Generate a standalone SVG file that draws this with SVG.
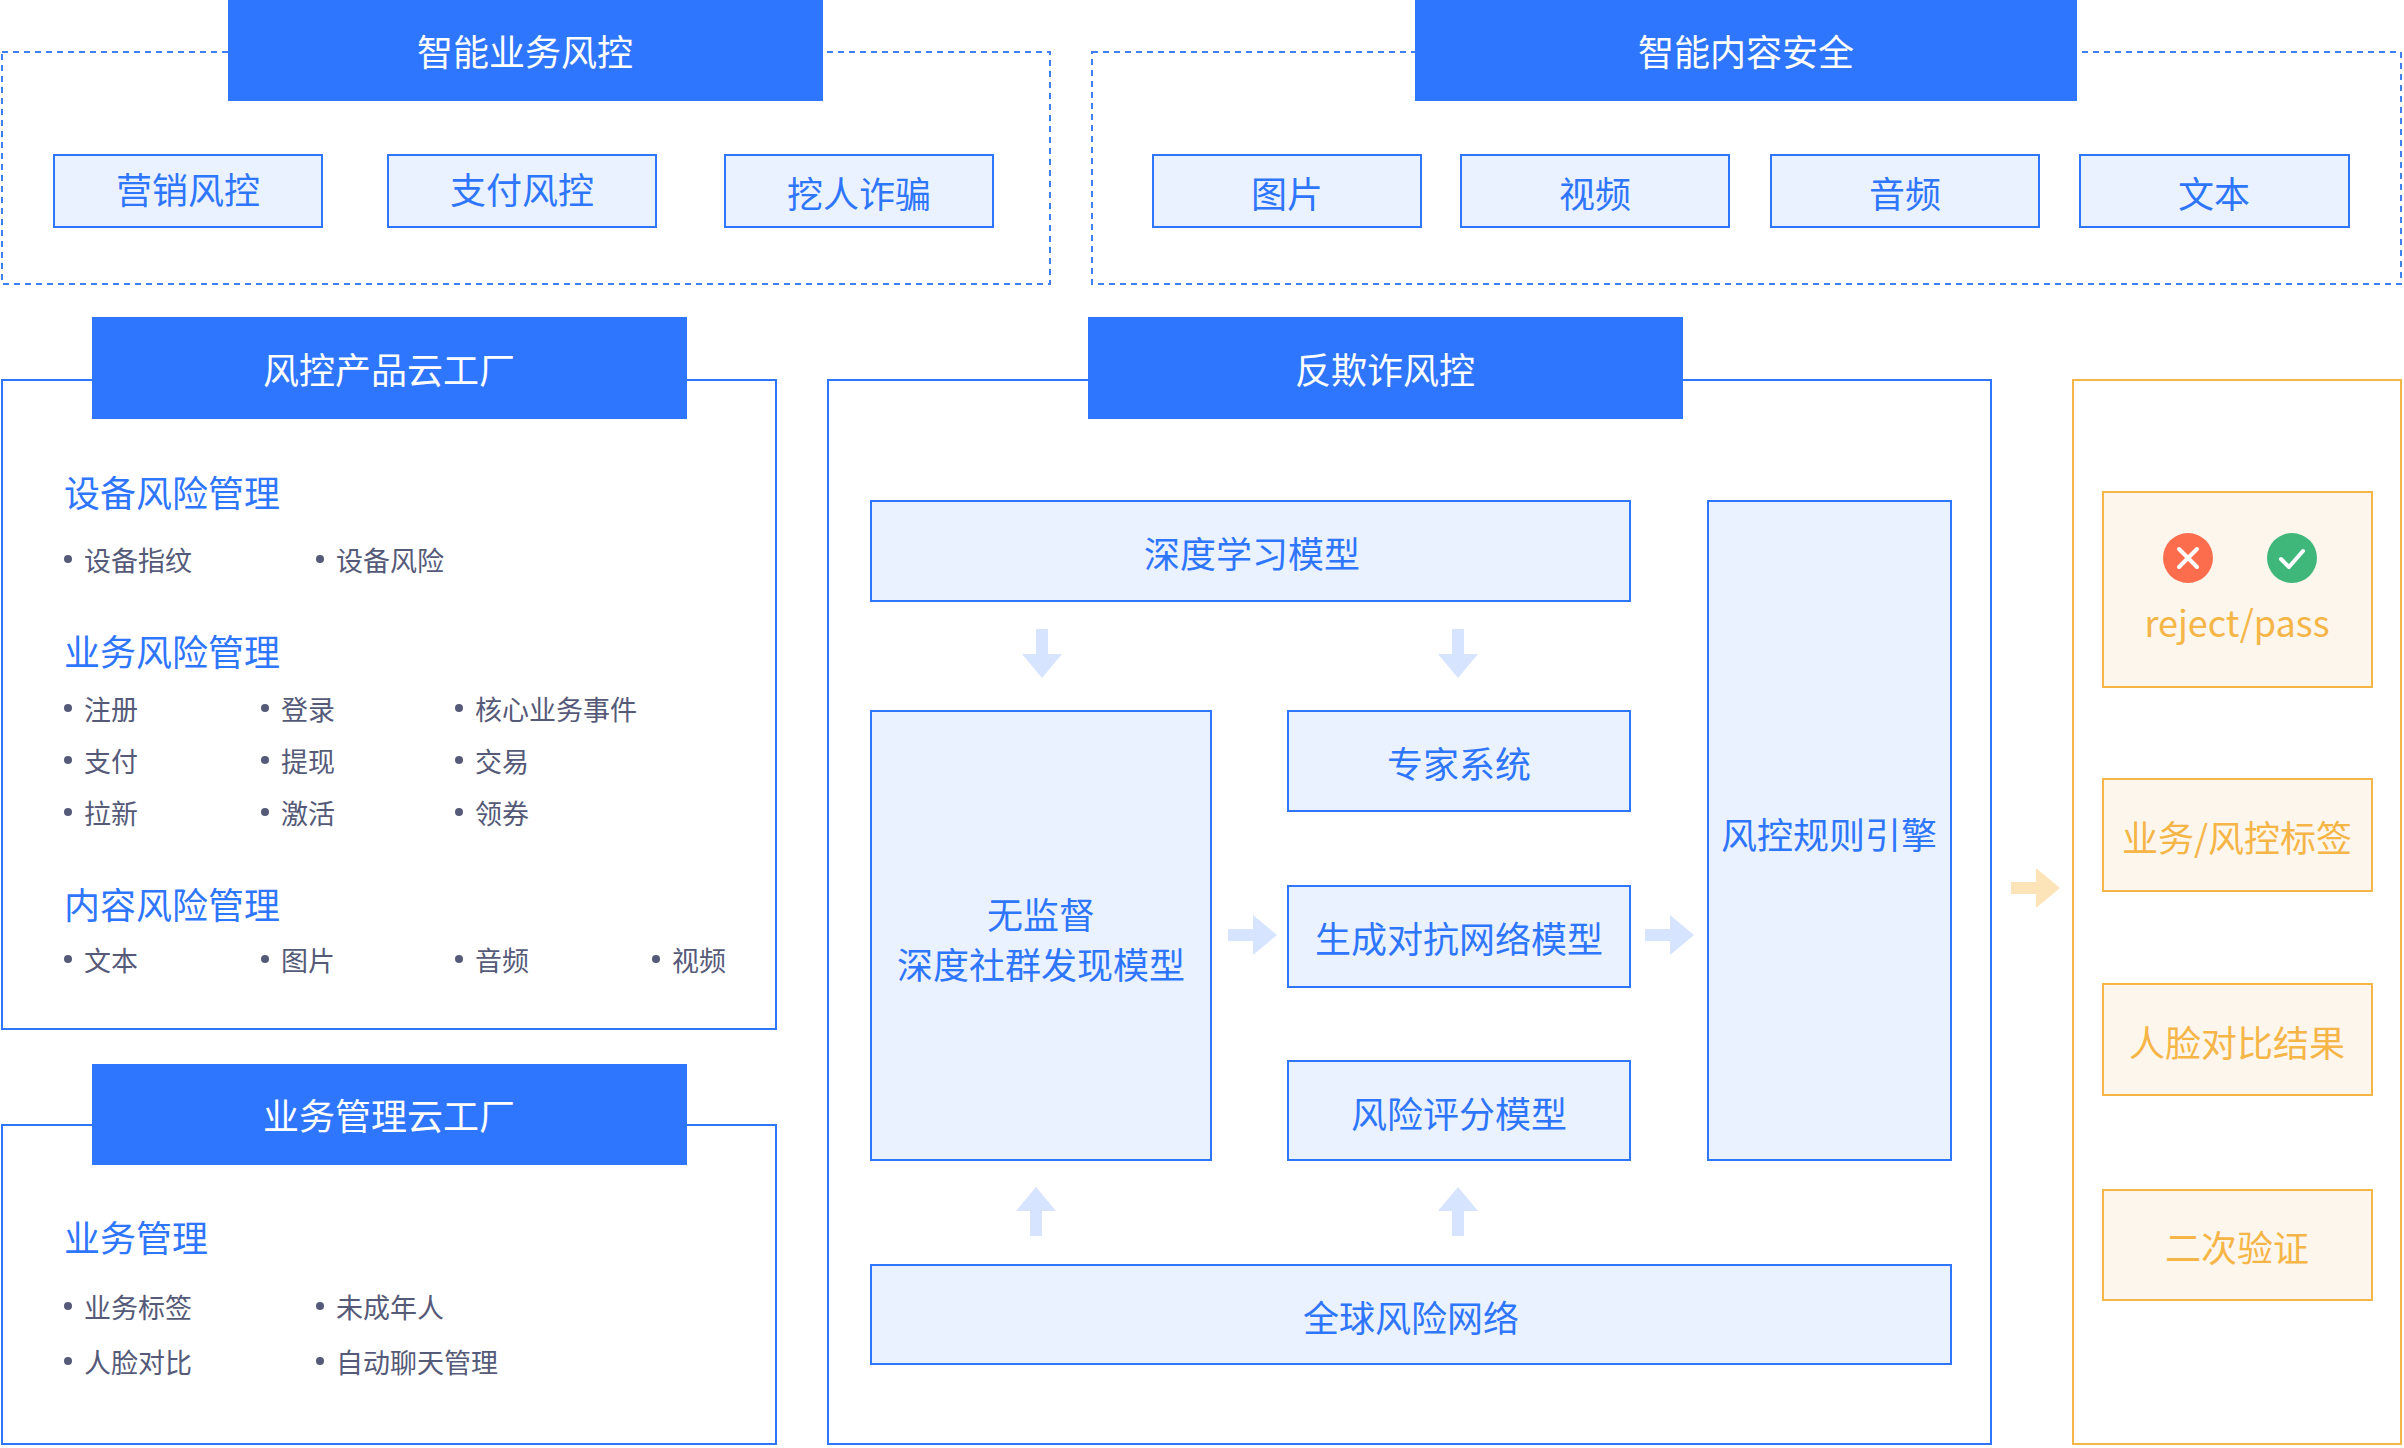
<svg xmlns="http://www.w3.org/2000/svg" width="2404" height="1448" viewBox="0 0 2404 1448">
<style>
text{font-family:"Noto Sans CJK SC","Noto Sans",sans-serif}
.hd{fill:#2f76ff}
.ht{fill:#fff;font-size:36px;text-anchor:middle;dominant-baseline:central}
.dash{fill:none;stroke:#3f7ff0;stroke-width:2;stroke-dasharray:6 5}
.pan{fill:#fff;stroke:#2f76ff;stroke-width:2}
.bx{fill:#eaf2ff;stroke:#2f76ff;stroke-width:2}
.bt{fill:#2f76ff;font-size:36px;text-anchor:middle;dominant-baseline:central}
.sec{fill:#2f76ff;font-size:36px;dominant-baseline:central}
.li{fill:#555a78;font-size:27px;dominant-baseline:central}
.dot{fill:#555a78}
.op{fill:#fff;stroke:#f5b547;stroke-width:2}
.ob{fill:#fdf6ec;stroke:#f5b547;stroke-width:2}
.ot{fill:#f5b547;font-size:36px;text-anchor:middle;dominant-baseline:central}
.ar{fill:#d6e4ff}
.oa{fill:#fde4b8}
</style>
<g id="biz">
<rect class="dash" x="2" y="52" width="1048" height="232"/>
<rect class="hd" x="228" y="0" width="595" height="101"/><text class="ht" x="525" y="50">智能业务风控</text>
<rect class="bx" x="54" y="155" width="268" height="72"/><text class="bt" x="188" y="188">营销风控</text>
<rect class="bx" x="388" y="155" width="268" height="72"/><text class="bt" x="522" y="188">支付风控</text>
<rect class="bx" x="725" y="155" width="268" height="72"/><text class="bt" x="859" y="192">挖人诈骗</text>
</g>
<g id="content">
<rect class="dash" x="1092" y="52" width="1309" height="232"/>
<rect class="hd" x="1415" y="0" width="662" height="101"/><text class="ht" x="1746" y="50">智能内容安全</text>
<rect class="bx" x="1153" y="155" width="268" height="72"/><text class="bt" x="1287" y="192">图片</text>
<rect class="bx" x="1461" y="155" width="268" height="72"/><text class="bt" x="1595" y="192">视频</text>
<rect class="bx" x="1771" y="155" width="268" height="72"/><text class="bt" x="1905" y="192">音频</text>
<rect class="bx" x="2080" y="155" width="269" height="72"/><text class="bt" x="2214" y="192">文本</text>
</g>
<g id="factory">
<rect class="pan" x="2" y="380" width="774" height="649"/>
<rect class="hd" x="92" y="317" width="595" height="102"/><text class="ht" x="389" y="368">风控产品云工厂</text>
<text class="sec" x="64" y="491">设备风险管理</text>
<circle class="dot" cx="68" cy="559" r="4"/><text class="li" x="84" y="559">设备指纹</text>
<circle class="dot" cx="320" cy="559" r="4"/><text class="li" x="336" y="559">设备风险</text>
<text class="sec" x="64" y="650">业务风险管理</text>
<circle class="dot" cx="68" cy="708" r="4"/><text class="li" x="84" y="708">注册</text>
<circle class="dot" cx="265" cy="708" r="4"/><text class="li" x="281" y="708">登录</text>
<circle class="dot" cx="459" cy="708" r="4"/><text class="li" x="475" y="708">核心业务事件</text>
<circle class="dot" cx="68" cy="760" r="4"/><text class="li" x="84" y="760">支付</text>
<circle class="dot" cx="265" cy="760" r="4"/><text class="li" x="281" y="760">提现</text>
<circle class="dot" cx="459" cy="760" r="4"/><text class="li" x="475" y="760">交易</text>
<circle class="dot" cx="68" cy="812" r="4"/><text class="li" x="84" y="812">拉新</text>
<circle class="dot" cx="265" cy="812" r="4"/><text class="li" x="281" y="812">激活</text>
<circle class="dot" cx="459" cy="812" r="4"/><text class="li" x="475" y="812">领券</text>
<text class="sec" x="64" y="903">内容风险管理</text>
<circle class="dot" cx="68" cy="959" r="4"/><text class="li" x="84" y="959">文本</text>
<circle class="dot" cx="265" cy="959" r="4"/><text class="li" x="281" y="959">图片</text>
<circle class="dot" cx="459" cy="959" r="4"/><text class="li" x="475" y="959">音频</text>
<circle class="dot" cx="656" cy="959" r="4"/><text class="li" x="672" y="959">视频</text>
</g>
<g id="mgmt">
<rect class="pan" x="2" y="1125" width="774" height="319"/>
<rect class="hd" x="92" y="1064" width="595" height="101"/><text class="ht" x="389" y="1114">业务管理云工厂</text>
<text class="sec" x="64" y="1236">业务管理</text>
<circle class="dot" cx="68" cy="1306" r="4"/><text class="li" x="84" y="1306">业务标签</text>
<circle class="dot" cx="320" cy="1306" r="4"/><text class="li" x="336" y="1306">未成年人</text>
<circle class="dot" cx="68" cy="1361" r="4"/><text class="li" x="84" y="1361">人脸对比</text>
<circle class="dot" cx="320" cy="1361" r="4"/><text class="li" x="336" y="1361">自动聊天管理</text>
</g>
<g id="antifraud">
<rect class="pan" x="828" y="380" width="1163" height="1064"/>
<rect class="hd" x="1088" y="317" width="595" height="102"/><text class="ht" x="1385" y="368">反欺诈风控</text>
</g>
<g id="dl"><rect class="bx" x="871" y="501" width="759" height="100"/><text class="bt" x="1252" y="552">深度学习模型</text></g>
<g id="engine"><rect class="bx" x="1708" y="501" width="243" height="659"/><text class="bt" x="1829" y="833">风控规则引擎</text></g>
<g id="unsup"><rect class="bx" x="871" y="711" width="340" height="449"/><text class="bt" x="1041" y="913">无监督</text><text class="bt" x="1041" y="963">深度社群发现模型</text></g>
<g id="expert"><rect class="bx" x="1288" y="711" width="342" height="100"/><text class="bt" x="1459" y="762">专家系统</text></g>
<g id="gan"><rect class="bx" x="1288" y="886" width="342" height="101"/><text class="bt" x="1459" y="937">生成对抗网络模型</text></g>
<g id="score"><rect class="bx" x="1288" y="1061" width="342" height="99"/><text class="bt" x="1459" y="1112">风险评分模型</text></g>
<g id="global"><rect class="bx" x="871" y="1265" width="1080" height="99"/><text class="bt" x="1411" y="1316">全球风险网络</text></g>
<g id="output">
<rect class="op" x="2073" y="380" width="328" height="1064"/>
<rect class="ob" x="2103" y="492" width="269" height="195"/>
<circle cx="2188" cy="558" r="25" fill="#fb6d4d"/>
<path d="M2179 549 L2197 567 M2197 549 L2179 567" stroke="#fff" stroke-width="4" stroke-linecap="round"/>
<circle cx="2292" cy="558" r="25" fill="#3fb77b"/>
<path d="M2281 559 L2289 567 L2303 551" stroke="#fff" stroke-width="4" fill="none" stroke-linecap="round" stroke-linejoin="round"/>
<text class="ot" x="2237" y="621">reject/pass</text>
<rect class="ob" x="2103" y="779" width="269" height="112"/><text class="ot" x="2237" y="836">业务/风控标签</text>
<rect class="ob" x="2103" y="984" width="269" height="111"/><text class="ot" x="2237" y="1041">人脸对比结果</text>
<rect class="ob" x="2103" y="1190" width="269" height="110"/><text class="ot" x="2237" y="1246">二次验证</text>
</g>
<g id="connectors">
<path class="ar" d="M1036 629 h12 v25 h14 l-20 24 l-20 -24 h14 z"/>
<path class="ar" d="M1452 629 h12 v25 h14 l-20 24 l-20 -24 h14 z"/>
<path class="ar" d="M1030 1236 h12 v-25 h14 l-20 -24 l-20 24 h14 z"/>
<path class="ar" d="M1452 1236 h12 v-25 h14 l-20 -24 l-20 24 h14 z"/>
<path class="ar" d="M1228 929 h25 v-14 l24 20 l-24 20 v-14 h-25 z"/>
<path class="ar" d="M1645 929 h25 v-14 l24 20 l-24 20 v-14 h-25 z"/>
<path class="oa" d="M2011 882 h25 v-14 l24 20 l-24 20 v-14 h-25 z"/>
</g>
</svg>
